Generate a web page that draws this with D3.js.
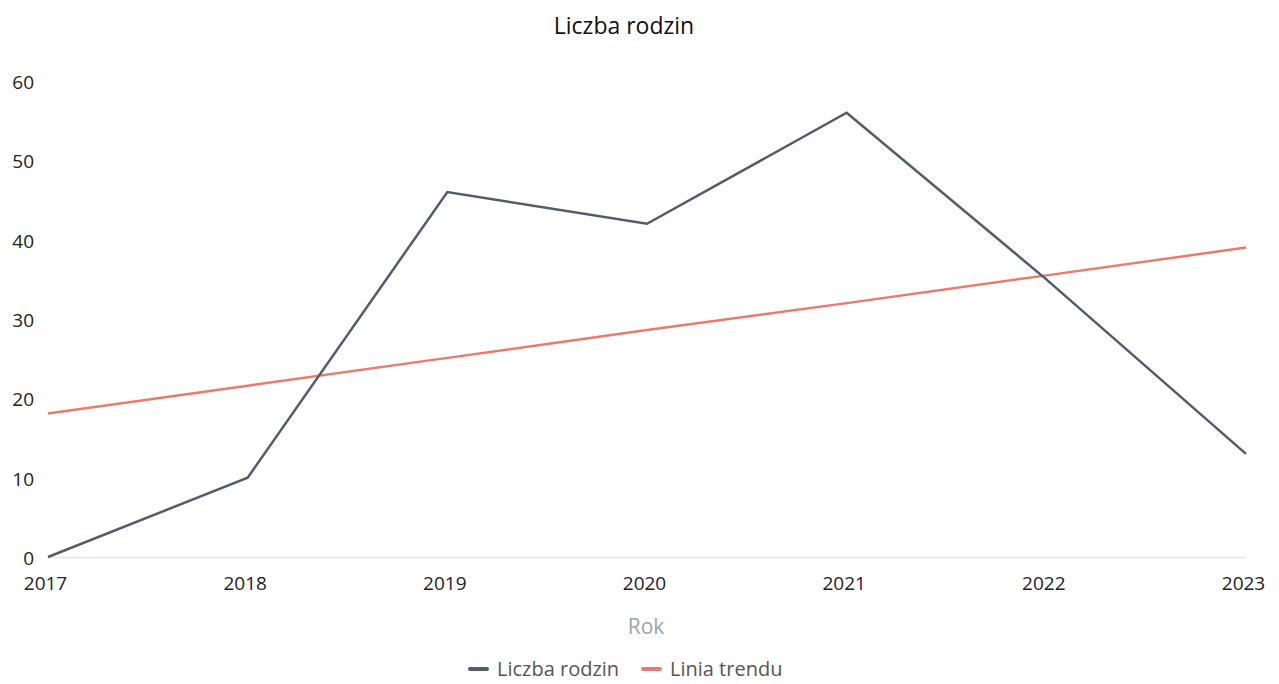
<!DOCTYPE html>
<html><head><meta charset="utf-8">
<script src="https://cdn.jsdelivr.net/npm/d3@7"></script>
<style>
body{margin:0;background:#fff;font-family:"Open Sans",sans-serif;}
svg{display:block;}
</style></head>
<body><svg id="c" width="1279" height="684"></svg>
<script>
const years = [2017, 2018, 2019, 2020, 2021, 2022, 2023];
const families = [0, 10, 46, 42, 56, 35, 13];
const trend = [18.1, 21.6, 25.1, 28.6, 32.0, 35.5, 39.0];
const yTicks = [0, 10, 20, 30, 40, 50, 60];
const seriesNames = ["Liczba rodzin", "Linia trendu"];
const colors = ["#525c6b", "#ea7a6c"];

const svg = d3.select("#c");
const x = d3.scaleLinear().domain([2017, 2023]).range([48, 1246]);
const y = d3.scaleLinear().domain([0, 60]).range([557, 81]);

svg.append("text").attr("x", 624).attr("y", 34).attr("text-anchor", "middle")
  .attr("font-size", 23).attr("fill", "#111").text("Liczba rodzin");

// baseline
svg.append("line").attr("x1", x(2017)).attr("x2", x(2023)).attr("y1", y(0)+0.5).attr("y2", y(0)+0.5)
  .attr("stroke", "#e3e6ea").attr("stroke-width", 1.5);

// y axis
const ya = svg.append("g").attr("transform", "translate(34,1)")
  .call(d3.axisLeft(y).tickValues(yTicks).tickSize(0).tickPadding(0));
ya.select(".domain").remove();
ya.selectAll("text").attr("font-size", 19).attr("fill", "#222").attr("font-family", "Open Sans").attr("dy", "0.35em");

// x axis
const xa = svg.append("g").attr("transform", "translate(-3,576)")
  .call(d3.axisBottom(x).tickValues(years).tickFormat(d3.format("d")).tickSize(0).tickPadding(0));
xa.select(".domain").remove();
xa.selectAll("text").attr("font-size", 19).attr("fill", "#222").attr("font-family", "Open Sans").attr("dy", "0.71em");

svg.append("text").attr("x", 646).attr("y", 634).attr("text-anchor", "middle")
  .attr("font-size", 21).attr("fill", "#9aa3ad").text("Rok");

const line = d3.line().x((d, i) => x(years[i])).y(d => y(d));
svg.append("path").datum(trend).attr("d", line).attr("fill", "none")
  .attr("stroke", colors[1]).attr("stroke-width", 2.5);
svg.append("path").datum(families).attr("d", line).attr("fill", "none")
  .attr("stroke", colors[0]).attr("stroke-width", 2.5).attr("stroke-linejoin", "miter");

// legend
const lg = [{x: 470, name: seriesNames[0], c: colors[0]}, {x: 643, name: seriesNames[1], c: colors[1]}];
lg.forEach(l => {
  svg.append("line").attr("x1", l.x).attr("x2", l.x + 17).attr("y1", 669).attr("y2", 669)
    .attr("stroke", l.c).attr("stroke-width", 4).attr("stroke-linecap", "round");
  svg.append("text").attr("x", l.x + 27).attr("y", 676).attr("font-size", 20)
    .attr("fill", "#555").text(l.name);
});
</script></body></html>
